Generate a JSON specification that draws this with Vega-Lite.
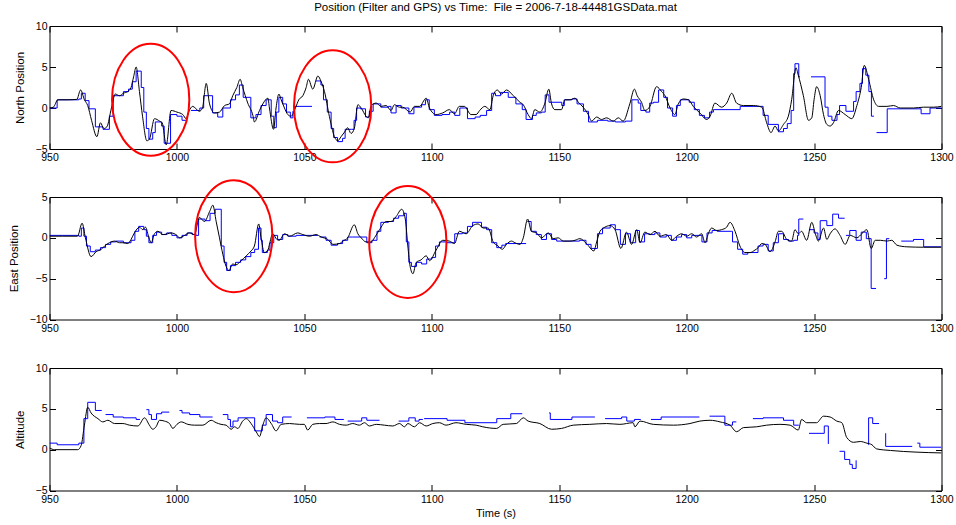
{
  "$schema": "https://vega.github.io/schema/vega-lite/v6.json",
  "background": "white",
  "padding": {"left": 7.5, "top": 1, "right": 5, "bottom": 5},
  "config": {
    "font": "Liberation Sans",
    "view": {"stroke": "black", "strokeWidth": 1},
    "axis": {
      "domain": false, "grid": false, "ticks": true, "tickColor": "black", "tickSize": -6, "tickWidth": 1,
      "labelColor": "black", "labelFont": "Liberation Sans", "labelFontSize": 10.5, "format": "d",
      "labelFlush": false, "labelOverlap": false,
      "titleFont": "Liberation Sans", "titleFontSize": 11.5, "titleFontWeight": "normal", "titleColor": "black", "titlePadding": 4
    },
    "axisX": {"labelPadding": 9.5},
    "axisY": {"labelPadding": 8.5, "titlePadding": 10}
  },
  "datasets": {
    "north_filt": [
      {"t":950,"v":0},{"t":951.5,"v":0.1},{"t":953.3,"v":1.0},{"t":957,"v":1.0},{"t":960.7,"v":1.05},{"t":962.2,"v":2.2},{"t":963.7,"v":1.0},{"t":965,"v":0.3},{"t":966.5,"v":-1.5},{"t":968.6,"v":-3.5},{"t":970,"v":-1.8},{"t":971.3,"v":-2.5},{"t":972.5,"v":-2.3},{"t":974.3,"v":0},{"t":975.8,"v":1.7},{"t":977.5,"v":1.5},{"t":979,"v":1.8},{"t":980.7,"v":2.0},{"t":982,"v":2.5},{"t":983,"v":3.8},{"t":984,"v":5.0},{"t":985.3,"v":2.0},{"t":986.5,"v":-1.0},{"t":988.2,"v":-4.0},{"t":989.2,"v":-3.8},{"t":991.2,"v":-1.3},{"t":993.2,"v":-1.6},{"t":994.2,"v":-1.8},{"t":995.8,"v":-4.5},{"t":997.7,"v":-0.3},{"t":1000,"v":-0.5},{"t":1002.3,"v":-0.8},{"t":1003.6,"v":-1.3},{"t":1004.7,"v":-0.4},{"t":1006.2,"v":0.2},{"t":1008.8,"v":-0.4},{"t":1010,"v":0},{"t":1011.5,"v":3.0},{"t":1012.8,"v":0.5},{"t":1014.7,"v":-0.6},{"t":1016.7,"v":-0.5},{"t":1018.7,"v":0.3},{"t":1020.6,"v":0.5},{"t":1021.9,"v":1.5},{"t":1023.5,"v":2.5},{"t":1024.8,"v":3.5},{"t":1025.8,"v":2.5},{"t":1027.8,"v":0.6},{"t":1029.8,"v":-0.9},{"t":1030.4,"v":-1.7},{"t":1032.4,"v":-0.3},{"t":1033.7,"v":0.5},{"t":1035.7,"v":1.2},{"t":1036.3,"v":0},{"t":1037.9,"v":-2.6},{"t":1038.9,"v":0},{"t":1040,"v":1.7},{"t":1040.9,"v":1.0},{"t":1042.2,"v":0},{"t":1043.5,"v":-0.8},{"t":1044.8,"v":-1.0},{"t":1046.5,"v":0},{"t":1047.8,"v":1.0},{"t":1049.4,"v":1.5},{"t":1050.7,"v":2.5},{"t":1051.6,"v":3.5},{"t":1053.3,"v":2.3},{"t":1055.3,"v":3.9},{"t":1056.6,"v":3.2},{"t":1057.9,"v":2.0},{"t":1059.8,"v":-1.0},{"t":1061.8,"v":-3.5},{"t":1063.1,"v":-4.0},{"t":1064.4,"v":-3.5},{"t":1066.1,"v":-2.8},{"t":1067,"v":-2.4},{"t":1068.3,"v":-3.1},{"t":1069.6,"v":-2.5},{"t":1071,"v":0.4},{"t":1072.3,"v":0},{"t":1074.2,"v":-1.0},{"t":1075.1,"v":-1.2},{"t":1076.2,"v":0.3},{"t":1078.2,"v":0.6},{"t":1080.1,"v":0.2},{"t":1082.1,"v":0.3},{"t":1084,"v":-0.3},{"t":1085.3,"v":0.4},{"t":1087.3,"v":0.1},{"t":1088.6,"v":0.1},{"t":1091.5,"v":-0.5},{"t":1093.2,"v":0.2},{"t":1095.2,"v":0.2},{"t":1097.8,"v":1.2},{"t":1099.1,"v":0},{"t":1101.7,"v":-0.8},{"t":1104.3,"v":-0.6},{"t":1106.9,"v":-0.2},{"t":1108.9,"v":-0.7},{"t":1110.8,"v":0.2},{"t":1112.8,"v":0.2},{"t":1115.4,"v":-0.8},{"t":1117.4,"v":-0.8},{"t":1118.8,"v":-0.3},{"t":1120.8,"v":0.2},{"t":1122.8,"v":-0.2},{"t":1124.1,"v":1.5},{"t":1125.7,"v":2.2},{"t":1127.4,"v":1.7},{"t":1129.3,"v":2.2},{"t":1132,"v":1.5},{"t":1134.6,"v":0.7},{"t":1135.9,"v":0.4},{"t":1137.8,"v":-0.8},{"t":1139.1,"v":-1.3},{"t":1140.4,"v":-0.2},{"t":1142.4,"v":-0.5},{"t":1144.4,"v":0.6},{"t":1145.9,"v":2.3},{"t":1147,"v":0.5},{"t":1148.3,"v":-0.2},{"t":1150.9,"v":-0.2},{"t":1152.2,"v":1.0},{"t":1154.2,"v":1.0},{"t":1156.2,"v":1.2},{"t":1157.5,"v":0.7},{"t":1159.4,"v":0.1},{"t":1161.4,"v":-0.8},{"t":1162.7,"v":-1.6},{"t":1164.7,"v":-1.1},{"t":1166.6,"v":-1.4},{"t":1168.6,"v":-1.2},{"t":1171.2,"v":-1.6},{"t":1173.2,"v":-1.2},{"t":1175.1,"v":-1.6},{"t":1177.7,"v":0.5},{"t":1179.5,"v":2.3},{"t":1180.6,"v":1.5},{"t":1182.3,"v":0.7},{"t":1183.6,"v":-0.3},{"t":1185.6,"v":0.2},{"t":1188.2,"v":2.6},{"t":1190.2,"v":2.0},{"t":1191.5,"v":1.5},{"t":1193.5,"v":0},{"t":1195.4,"v":-0.8},{"t":1196.7,"v":0.5},{"t":1198.7,"v":1.1},{"t":1200.7,"v":1.0},{"t":1202.6,"v":0.2},{"t":1205.2,"v":-0.6},{"t":1207.9,"v":-1.4},{"t":1209.2,"v":-1.0},{"t":1211.1,"v":0.6},{"t":1213.7,"v":0.1},{"t":1215.7,"v":0.6},{"t":1217.7,"v":1.8},{"t":1219.6,"v":0.6},{"t":1222.3,"v":0.3},{"t":1226.2,"v":0.3},{"t":1229.5,"v":0.1},{"t":1231.4,"v":-1.8},{"t":1233.1,"v":-3.0},{"t":1234.7,"v":-2.2},{"t":1236,"v":-2.8},{"t":1238,"v":-2.0},{"t":1239.9,"v":-1.0},{"t":1241.2,"v":1.0},{"t":1242.9,"v":4.9},{"t":1243.8,"v":4.0},{"t":1245.8,"v":1.5},{"t":1247.8,"v":-1.5},{"t":1249.1,"v":-1.2},{"t":1250,"v":1.0},{"t":1251,"v":2.6},{"t":1252.4,"v":1.5},{"t":1253.7,"v":-0.8},{"t":1255,"v":-2.0},{"t":1256.3,"v":-2.2},{"t":1257.6,"v":-1.8},{"t":1259.6,"v":-0.3},{"t":1262.2,"v":-0.8},{"t":1264.8,"v":-1.3},{"t":1266.8,"v":0.3},{"t":1268.5,"v":2.5},{"t":1269.7,"v":5.2},{"t":1271.4,"v":3.5},{"t":1273.4,"v":1.0},{"t":1275.3,"v":0.2},{"t":1278.6,"v":0.2},{"t":1281.2,"v":0.3},{"t":1283.8,"v":0},{"t":1289,"v":0},{"t":1293,"v":0.1},{"t":1296.9,"v":0.1},{"t":1300,"v":0.2}
    ],
    "north_gps": [
      {"t":950,"v":0,"s":1},{"t":953,"v":1.0,"s":1},{"t":961.5,"v":1.1,"s":1},{"t":962.5,"v":1.8,"s":1},{"t":964,"v":0.9,"s":1},{"t":965.5,"v":-0.1,"s":1},{"t":968,"v":-2.3,"s":1},{"t":971,"v":-2.6,"s":1},{"t":973.5,"v":-1.0,"s":1},{"t":975,"v":1.5,"s":1},{"t":979,"v":2.0,"s":1},{"t":981,"v":2.3,"s":1},{"t":982.5,"v":3.2,"s":1},{"t":984,"v":4.5,"s":1},{"t":986,"v":2.5,"s":1},{"t":987,"v":-0.5,"s":1},{"t":988,"v":-2.5,"s":1},{"t":989,"v":-3.8,"s":1},{"t":990.5,"v":-3.0,"s":1},{"t":991.5,"v":-1.7,"s":1},{"t":994,"v":-2.2,"s":1},{"t":995,"v":-4.3,"s":1},{"t":997.5,"v":-0.8,"s":1},{"t":1000,"v":-1.0,"s":1},{"t":1002,"v":-1.5,"s":1},{"t":1004,"v":-1.5,"s":1},
      {"t":1005.5,"v":-0.3,"s":2},{"t":1007.5,"v":-0.3,"s":2},{"t":1009,"v":0,"s":2},{"t":1010.5,"v":1.5,"s":2},{"t":1014,"v":-0.6,"s":2},{"t":1016,"v":-1.1,"s":2},{"t":1018,"v":0,"s":2},{"t":1021,"v":1.0,"s":2},{"t":1023,"v":1.6,"s":2},{"t":1024.5,"v":2.8,"s":2},{"t":1026,"v":1.3,"s":2},{"t":1029,"v":-1.2,"s":2},{"t":1031,"v":-0.8,"s":2},{"t":1033,"v":0.3,"s":2},{"t":1035,"v":1.0,"s":2},{"t":1037,"v":-1.0,"s":2},{"t":1038,"v":-2.4,"s":2},{"t":1039,"v":-0.5,"s":2},{"t":1040,"v":1.3,"s":2},{"t":1041.5,"v":0.5,"s":2},{"t":1043,"v":-0.5,"s":2},{"t":1044.5,"v":-1.2,"s":2},{"t":1045.5,"v":-0.4,"s":2},{"t":1046,"v":0.2,"s":2},{"t":1053,"v":0.2,"s":2},
      {"t":1054.5,"v":3.3,"s":3},{"t":1056.5,"v":2.8,"s":3},{"t":1057.5,"v":1.0,"s":3},{"t":1059,"v":-0.5,"s":3},{"t":1060.5,"v":-2.5,"s":3},{"t":1061.5,"v":-3.6,"s":3},{"t":1063,"v":-4.1,"s":3},{"t":1065,"v":-3.7,"s":3},{"t":1066,"v":-2.6,"s":3},{"t":1068.5,"v":-2.6,"s":3},{"t":1069.5,"v":-1.5,"s":3},{"t":1070.5,"v":0,"s":3},{"t":1072,"v":-0.1,"s":3},{"t":1074,"v":-1.1,"s":3},{"t":1075.5,"v":-0.4,"s":3},{"t":1077,"v":0.5,"s":3},{"t":1080,"v":0.1,"s":3},{"t":1083,"v":0.2,"s":3},{"t":1084,"v":-0.6,"s":3},{"t":1086,"v":0.3,"s":3},{"t":1088,"v":0,"s":3},{"t":1091,"v":-0.7,"s":3},{"t":1093,"v":0.1,"s":3},{"t":1096,"v":0.4,"s":3},{"t":1097.5,"v":1.0,"s":3},{"t":1099,"v":-0.2,"s":3},{"t":1101,"v":-0.9,"s":3},{"t":1104,"v":-0.8,"s":3},{"t":1107,"v":-0.5,"s":3},{"t":1109,"v":-0.9,"s":3},{"t":1111,"v":0,"s":3},{"t":1114,"v":-1.3,"s":3},{"t":1117,"v":-1.1,"s":3},{"t":1119,"v":-0.9,"s":3},{"t":1121.5,"v":-0.3,"s":3},{"t":1123.5,"v":1.8,"s":3},{"t":1125,"v":1.5,"s":3},{"t":1127,"v":1.9,"s":3},{"t":1130,"v":1.3,"s":3},{"t":1133,"v":0.5,"s":3},{"t":1135.5,"v":-0.2,"s":3},{"t":1137,"v":-1.4,"s":3},{"t":1139.5,"v":-0.9,"s":3},{"t":1141,"v":-0.6,"s":3},{"t":1143,"v":-0.5,"s":3},{"t":1144.5,"v":1.6,"s":3},{"t":1146,"v":0.7,"s":3},{"t":1151,"v":0.3,"s":3},{"t":1152,"v":1.0,"s":3},{"t":1155,"v":1.1,"s":3},{"t":1157,"v":0.5,"s":3},{"t":1159.5,"v":-0.4,"s":3},{"t":1161.5,"v":-1.7,"s":3},{"t":1165,"v":-1.5,"s":3},{"t":1169,"v":-1.6,"s":3},{"t":1172,"v":-1.7,"s":3},{"t":1176,"v":-1.6,"s":3},{"t":1178.5,"v":1.0,"s":3},{"t":1181,"v":0.6,"s":3},{"t":1182,"v":-0.3,"s":3},{"t":1184,"v":-0.5,"s":3},{"t":1185.5,"v":0.6,"s":3},{"t":1187,"v":0.7,"s":3},{"t":1189,"v":2.2,"s":3},{"t":1191,"v":1.3,"s":3},{"t":1192.5,"v":0,"s":3},{"t":1194.5,"v":-1.0,"s":3},{"t":1196,"v":0.3,"s":3},{"t":1197.5,"v":1.0,"s":3},{"t":1201,"v":0.7,"s":3},{"t":1203,"v":-0.2,"s":3},{"t":1205,"v":-0.9,"s":3},{"t":1207,"v":-1.2,"s":3},{"t":1209,"v":-0.5,"s":3},{"t":1210.5,"v":-0.2,"s":3},{"t":1221,"v":0.2,"s":3},{"t":1229,"v":0.2,"s":3},{"t":1230,"v":-0.9,"s":3},{"t":1232,"v":-2.0,"s":3},{"t":1236,"v":-2.9,"s":3},{"t":1238,"v":-2.5,"s":3},{"t":1239.5,"v":-1.9,"s":3},{"t":1241,"v":-0.3,"s":3},{"t":1242,"v":4.2,"s":3},{"t":1242.5,"v":5.4,"s":3},{"t":1244,"v":3.8,"s":3},{"t":1244.5,"v":3.8,"s":3},
      {"t":1248.8,"v":3.8,"s":4},{"t":1254.3,"v":0.1,"s":4},{"t":1255.5,"v":-1.0,"s":4},{"t":1257,"v":-1.5,"s":4},{"t":1259,"v":-0.8,"s":4},{"t":1260,"v":0.3,"s":4},{"t":1262.5,"v":-0.4,"s":4},{"t":1265.5,"v":0.8,"s":4},{"t":1266.5,"v":2.0,"s":4},{"t":1268,"v":3.0,"s":4},{"t":1269,"v":4.8,"s":4},{"t":1270.3,"v":4.0,"s":4},{"t":1271.5,"v":2.0,"s":4},{"t":1272.5,"v":-1.0,"s":4},{"t":1273.5,"v":-1.0,"s":4},
      {"t":1274.5,"v":-3.0,"s":5},{"t":1278.7,"v":-0.1,"s":5},{"t":1292,"v":-0.7,"s":5},{"t":1295.5,"v":0,"s":5},{"t":1300,"v":0,"s":5}
    ],
    "east_filt": [
      {"t":950,"v":0.2},{"t":955,"v":0.2},{"t":961,"v":0.2},{"t":962.8,"v":1.8},{"t":964.1,"v":0},{"t":966.3,"v":-2.3},{"t":968.3,"v":-1.7},{"t":970.3,"v":-1.4},{"t":971.6,"v":-1.0},{"t":973.5,"v":-0.6},{"t":975.5,"v":-0.4},{"t":977.5,"v":-0.6},{"t":978.8,"v":-0.6},{"t":980.7,"v":-0.7},{"t":982,"v":-0.2},{"t":983.3,"v":0.6},{"t":985.3,"v":1.3},{"t":986.6,"v":1.0},{"t":987.7,"v":1.3},{"t":989,"v":0},{"t":989.9,"v":-0.6},{"t":991.2,"v":0.5},{"t":992.5,"v":0.8},{"t":994.5,"v":0.4},{"t":996.4,"v":0.5},{"t":997.7,"v":0.6},{"t":1000,"v":0.3},{"t":1001,"v":0},{"t":1003,"v":0.3},{"t":1004.9,"v":0.6},{"t":1006.9,"v":0.4},{"t":1008.8,"v":2.5},{"t":1010.8,"v":2.0},{"t":1012.8,"v":3.2},{"t":1014.1,"v":4.0},{"t":1015.4,"v":2.0},{"t":1016.7,"v":0},{"t":1018,"v":-2.0},{"t":1019.3,"v":-3.5},{"t":1020.4,"v":-4.0},{"t":1021.9,"v":-3.2},{"t":1023.2,"v":-3.3},{"t":1025.2,"v":-2.8},{"t":1027.2,"v":-2.2},{"t":1029.1,"v":-1.6},{"t":1030.4,"v":-1.0},{"t":1032.1,"v":1.7},{"t":1033,"v":0},{"t":1034.3,"v":-1.8},{"t":1035.7,"v":-1.5},{"t":1036.3,"v":-0.8},{"t":1037.6,"v":0.5},{"t":1039.2,"v":-0.2},{"t":1040.2,"v":-0.3},{"t":1042.2,"v":0.5},{"t":1044.2,"v":0.2},{"t":1047.4,"v":0.6},{"t":1049.4,"v":0.4},{"t":1052,"v":0.2},{"t":1054.6,"v":0.4},{"t":1056.6,"v":0.1},{"t":1059.2,"v":-0.2},{"t":1061.2,"v":-0.8},{"t":1063.8,"v":-0.7},{"t":1065.1,"v":-0.4},{"t":1067,"v":0},{"t":1069.6,"v":1.6},{"t":1071,"v":0.5},{"t":1072.3,"v":0},{"t":1074.2,"v":-0.5},{"t":1076.2,"v":-0.5},{"t":1077.5,"v":0},{"t":1079.5,"v":1.0},{"t":1082.1,"v":2.0},{"t":1084,"v":2.0},{"t":1086,"v":2.6},{"t":1088.2,"v":3.5},{"t":1089.6,"v":2.3},{"t":1090.6,"v":-1.0},{"t":1091.5,"v":-3.5},{"t":1092.6,"v":-4.4},{"t":1093.9,"v":-3.0},{"t":1095.8,"v":-2.7},{"t":1097.8,"v":-2.2},{"t":1099.1,"v":-2.8},{"t":1101.7,"v":-1.5},{"t":1104.3,"v":-0.3},{"t":1106.9,"v":-0.4},{"t":1108.9,"v":-0.7},{"t":1110.8,"v":0.8},{"t":1113.5,"v":0.5},{"t":1116.1,"v":1.5},{"t":1118.2,"v":1.7},{"t":1120.2,"v":1.2},{"t":1122.1,"v":1.2},{"t":1124.1,"v":-0.5},{"t":1126,"v":-1.0},{"t":1127.7,"v":-1.4},{"t":1129.3,"v":-0.8},{"t":1131.3,"v":-0.4},{"t":1132.6,"v":-0.6},{"t":1134.6,"v":-0.8},{"t":1135.9,"v":0},{"t":1137.6,"v":2.3},{"t":1139.1,"v":0.8},{"t":1141.1,"v":0.6},{"t":1143.1,"v":0},{"t":1145.7,"v":0.6},{"t":1147.6,"v":-0.1},{"t":1149.6,"v":0},{"t":1151.6,"v":-0.4},{"t":1154.2,"v":-0.4},{"t":1156.2,"v":-0.3},{"t":1158.1,"v":-0.1},{"t":1160.7,"v":-0.7},{"t":1163.6,"v":-1.6},{"t":1164.7,"v":-0.5},{"t":1166,"v":0.8},{"t":1167.9,"v":1.3},{"t":1169.9,"v":1.5},{"t":1171.9,"v":1.0},{"t":1174.2,"v":-1.3},{"t":1176.4,"v":0.7},{"t":1178.4,"v":-0.8},{"t":1180.4,"v":1.0},{"t":1181.7,"v":-0.6},{"t":1183.6,"v":0.7},{"t":1185.6,"v":0.4},{"t":1187.6,"v":0.8},{"t":1189.5,"v":0.2},{"t":1192.1,"v":0.4},{"t":1194.1,"v":-0.3},{"t":1196.1,"v":0.2},{"t":1198,"v":0.5},{"t":1200,"v":0.2},{"t":1202,"v":0.5},{"t":1203.9,"v":0.1},{"t":1205.9,"v":0.5},{"t":1207.2,"v":-0.6},{"t":1208.5,"v":0.5},{"t":1209.8,"v":1.2},{"t":1211.8,"v":0.9},{"t":1213.7,"v":1.0},{"t":1215.7,"v":1.3},{"t":1217,"v":1.9},{"t":1219,"v":0.8},{"t":1220.9,"v":-1.0},{"t":1222.9,"v":-1.8},{"t":1224.9,"v":-1.8},{"t":1226.8,"v":-1.5},{"t":1228.1,"v":-1.2},{"t":1229.5,"v":-0.7},{"t":1230.8,"v":-0.8},{"t":1232.7,"v":-1.7},{"t":1234.7,"v":-0.5},{"t":1236,"v":0.8},{"t":1237.3,"v":0.8},{"t":1239.3,"v":-0.2},{"t":1241.2,"v":-0.4},{"t":1242.5,"v":1.0},{"t":1243.8,"v":0.5},{"t":1245.1,"v":0.8},{"t":1247.1,"v":-0.3},{"t":1249.1,"v":1.9},{"t":1250.5,"v":0.5},{"t":1251.7,"v":-0.4},{"t":1253.7,"v":1.2},{"t":1255,"v":-0.2},{"t":1256.3,"v":0.5},{"t":1258.2,"v":1.1},{"t":1260.2,"v":0.3},{"t":1262.2,"v":-0.8},{"t":1264.2,"v":0.3},{"t":1266.8,"v":0},{"t":1268.7,"v":0.5},{"t":1270.7,"v":1.0},{"t":1272.4,"v":-1.3},{"t":1274,"v":-0.3},{"t":1276,"v":-0.3},{"t":1278.6,"v":-0.4},{"t":1280.5,"v":-0.3},{"t":1282.5,"v":-0.9},{"t":1286.4,"v":-1.1},{"t":1293,"v":-1.15},{"t":1300,"v":-1.15}
    ],
    "east_gps": [
      {"t":950,"v":0.3,"s":1},{"t":961.5,"v":0.2,"s":1},{"t":962.5,"v":1.2,"s":1},{"t":963.5,"v":0.2,"s":1},{"t":964.5,"v":-1.0,"s":1},{"t":966,"v":-1.7,"s":1},{"t":968,"v":-1.5,"s":1},{"t":970,"v":-1.2,"s":1},{"t":972,"v":-0.8,"s":1},{"t":974,"v":-0.5,"s":1},{"t":976,"v":-0.4,"s":1},{"t":979,"v":-0.6,"s":1},{"t":982,"v":-0.3,"s":1},{"t":983.5,"v":0.8,"s":1},{"t":985,"v":1.4,"s":1},{"t":987,"v":1.0,"s":1},{"t":988,"v":0.2,"s":1},{"t":989,"v":-0.6,"s":1},{"t":990.5,"v":0.3,"s":1},{"t":992,"v":0.7,"s":1},{"t":994,"v":0.4,"s":1},{"t":996,"v":0.6,"s":1},{"t":998,"v":0.3,"s":1},{"t":1000,"v":0,"s":1},{"t":1002,"v":0.3,"s":1},{"t":1004,"v":0.6,"s":1},{"t":1006,"v":0.4,"s":1},{"t":1007.5,"v":0.3,"s":1},{"t":1008.5,"v":2.3,"s":1},{"t":1011,"v":2.1,"s":1},{"t":1013,"v":3.0,"s":1},{"t":1015,"v":3.5,"s":1},{"t":1017.4,"v":-1.0,"s":1},{"t":1018.5,"v":-3.0,"s":1},{"t":1019.5,"v":-4.0,"s":1},{"t":1021,"v":-3.4,"s":1},{"t":1023,"v":-3.0,"s":1},{"t":1025,"v":-2.7,"s":1},{"t":1027,"v":-2.3,"s":1},{"t":1029,"v":-1.8,"s":1},{"t":1030.5,"v":-1.4,"s":1},{"t":1032,"v":1.2,"s":1},{"t":1033,"v":-0.3,"s":1},{"t":1033.5,"v":-1.8,"s":1},{"t":1035.5,"v":-1.5,"s":1},{"t":1036.5,"v":-0.6,"s":1},{"t":1038,"v":0.3,"s":1},{"t":1039.5,"v":-0.2,"s":1},{"t":1041.5,"v":0.4,"s":1},{"t":1043.5,"v":0.2,"s":1},{"t":1046.8,"v":0.3,"s":1},{"t":1055.3,"v":0.3,"s":1},
      {"t":1056,"v":0.1,"s":2},{"t":1058.5,"v":-0.3,"s":2},{"t":1060.5,"v":-0.9,"s":2},{"t":1063,"v":-0.7,"s":2},{"t":1065,"v":-0.3,"s":2},{"t":1067,"v":0.1,"s":2},{"t":1069,"v":0.1,"s":2},{"t":1074.5,"v":-0.6,"s":2},{"t":1076.5,"v":-0.3,"s":2},{"t":1078.5,"v":0.8,"s":2},{"t":1080,"v":1.9,"s":2},{"t":1083,"v":2.0,"s":2},{"t":1085,"v":2.4,"s":2},{"t":1087,"v":2.7,"s":2},{"t":1089,"v":3.0,"s":2},{"t":1090,"v":-0.5,"s":2},{"t":1091,"v":-3.0,"s":2},{"t":1092,"v":-3.5,"s":2},{"t":1094,"v":-3.0,"s":2},{"t":1096,"v":-3.2,"s":2},{"t":1098,"v":-2.6,"s":2},{"t":1100,"v":-2.4,"s":2},{"t":1101.5,"v":-1.0,"s":2},{"t":1103,"v":-0.5,"s":2},{"t":1106,"v":-0.6,"s":2},{"t":1109,"v":0.5,"s":2},{"t":1112,"v":0.6,"s":2},{"t":1114,"v":1.4,"s":2},{"t":1116,"v":1.9,"s":2},{"t":1119.5,"v":1.3,"s":2},{"t":1121.5,"v":1.0,"s":2},{"t":1123.5,"v":-0.6,"s":2},{"t":1125.5,"v":-1.2,"s":2},{"t":1127.5,"v":-0.9,"s":2},{"t":1129,"v":-0.7,"s":2},{"t":1137,"v":-0.7,"s":2},
      {"t":1137.5,"v":2.0,"s":3},{"t":1139,"v":0.8,"s":3},{"t":1141,"v":0.4,"s":3},{"t":1143,"v":-0.2,"s":3},{"t":1145,"v":0.5,"s":3},{"t":1147,"v":-0.2,"s":3},{"t":1149,"v":-0.4,"s":3},{"t":1158,"v":-0.3,"s":3},{"t":1160.5,"v":-0.8,"s":3},{"t":1162.5,"v":-1.3,"s":3},{"t":1165,"v":0.5,"s":3},{"t":1167,"v":1.2,"s":3},{"t":1170,"v":1.6,"s":3},{"t":1172,"v":1.0,"s":3},{"t":1174,"v":-0.8,"s":3},{"t":1176,"v":0.5,"s":3},{"t":1178,"v":-0.6,"s":3},{"t":1180,"v":0.9,"s":3},{"t":1181.5,"v":-0.5,"s":3},{"t":1183.5,"v":0.5,"s":3},{"t":1185.5,"v":0.4,"s":3},{"t":1187.5,"v":0.6,"s":3},{"t":1189.5,"v":0.1,"s":3},{"t":1192,"v":0.3,"s":3},{"t":1194,"v":-0.3,"s":3},{"t":1196,"v":0.1,"s":3},{"t":1198,"v":0.4,"s":3},{"t":1200,"v":0,"s":3},{"t":1202,"v":0.3,"s":3},{"t":1206,"v":-0.5,"s":3},{"t":1208,"v":0.6,"s":3},{"t":1210,"v":0.9,"s":3},{"t":1212,"v":0.8,"s":3},{"t":1217.5,"v":0.8,"s":3},{"t":1218,"v":-0.5,"s":3},{"t":1220,"v":-1.4,"s":3},{"t":1222,"v":-2.0,"s":3},{"t":1224,"v":-1.8,"s":3},{"t":1228,"v":-1.0,"s":3},{"t":1230,"v":-0.8,"s":3},{"t":1232,"v":-1.6,"s":3},{"t":1234,"v":-0.6,"s":3},{"t":1236,"v":0.5,"s":3},{"t":1238,"v":-0.2,"s":3},{"t":1240,"v":-0.4,"s":3},{"t":1242,"v":-0.3,"s":3},{"t":1243.5,"v":0.3,"s":3},{"t":1244,"v":2.3,"s":3},{"t":1245.8,"v":2.3,"s":3},
      {"t":1248,"v":1.0,"s":4},{"t":1250,"v":0.6,"s":4},{"t":1251.5,"v":-0.2,"s":4},{"t":1252.4,"v":2.1,"s":4},{"t":1255,"v":1.5,"s":4},{"t":1257.3,"v":2.9,"s":4},{"t":1259.6,"v":2.4,"s":4},{"t":1262,"v":2.4,"s":4},
      {"t":1262.5,"v":0.3,"s":5},{"t":1264,"v":0.9,"s":5},{"t":1266.5,"v":-0.3,"s":5},{"t":1268.5,"v":0.7,"s":5},{"t":1270.5,"v":-0.1,"s":5},{"t":1272.4,"v":-6.2,"s":5},{"t":1274.3,"v":-6.2,"s":5},
      {"t":1277.5,"v":-5.0,"s":6},{"t":1278.4,"v":-0.1,"s":6},{"t":1279.5,"v":-0.1,"s":6},
      {"t":1284.2,"v":-0.4,"s":7},{"t":1289,"v":-0.2,"s":7},{"t":1293,"v":-1.1,"s":7},{"t":1300,"v":-1.1,"s":7}
    ],
    "alt_filt": [
      {"t":950,"v":0.2},{"t":952,"v":0},{"t":961.1,"v":0},{"t":962.4,"v":0.5},{"t":963.7,"v":3.0},{"t":965,"v":5.2},{"t":966.3,"v":4.5},{"t":969,"v":3.8},{"t":970.9,"v":3.4},{"t":972.9,"v":3.6},{"t":975.5,"v":3.2},{"t":978.8,"v":3.2},{"t":981.4,"v":3.0},{"t":984.7,"v":2.9},{"t":987.3,"v":3.9},{"t":989.2,"v":3.0},{"t":990.5,"v":2.5},{"t":991.8,"v":2.8},{"t":993.2,"v":3.6},{"t":995.1,"v":3.5},{"t":997.1,"v":3.2},{"t":998.4,"v":2.6},{"t":1000,"v":3.1},{"t":1001.7,"v":3.4},{"t":1004.3,"v":3.1},{"t":1006.9,"v":3.0},{"t":1010.2,"v":3.0},{"t":1013.4,"v":3.6},{"t":1015.4,"v":3.3},{"t":1017.3,"v":3.1},{"t":1019.3,"v":3.0},{"t":1021.3,"v":2.5},{"t":1022.6,"v":2.8},{"t":1023.9,"v":2.6},{"t":1025.8,"v":3.5},{"t":1027.2,"v":3.8},{"t":1029.1,"v":3.2},{"t":1031.1,"v":2.2},{"t":1032.4,"v":1.6},{"t":1033.7,"v":3.0},{"t":1035,"v":3.9},{"t":1037,"v":3.2},{"t":1038.9,"v":2.3},{"t":1040.9,"v":3.1},{"t":1044.2,"v":3.2},{"t":1048.1,"v":3.1},{"t":1050,"v":3.1},{"t":1051.3,"v":2.4},{"t":1053.3,"v":3.1},{"t":1055.9,"v":3.2},{"t":1058.5,"v":3.2},{"t":1061.2,"v":3.4},{"t":1063.8,"v":3.1},{"t":1066.4,"v":3.0},{"t":1069,"v":3.2},{"t":1071.6,"v":3.0},{"t":1073.6,"v":3.3},{"t":1075.5,"v":2.9},{"t":1078.2,"v":3.1},{"t":1081.4,"v":3.0},{"t":1084.7,"v":2.9},{"t":1087.3,"v":3.2},{"t":1089.3,"v":2.8},{"t":1090.6,"v":3.2},{"t":1093.2,"v":2.8},{"t":1095.2,"v":3.3},{"t":1097.8,"v":2.9},{"t":1100.4,"v":3.2},{"t":1103,"v":3.3},{"t":1105.6,"v":3.0},{"t":1109.5,"v":3.3},{"t":1113.5,"v":3.1},{"t":1117.4,"v":3.0},{"t":1120,"v":2.8},{"t":1125.4,"v":2.6},{"t":1128,"v":3.1},{"t":1133.2,"v":3.2},{"t":1135.9,"v":3.9},{"t":1137.8,"v":3.5},{"t":1142.4,"v":3.2},{"t":1147,"v":2.5},{"t":1150.9,"v":2.6},{"t":1155.5,"v":3.0},{"t":1162,"v":3.1},{"t":1168.6,"v":3.2},{"t":1173.8,"v":3.1},{"t":1179,"v":3.3},{"t":1179.7,"v":2.8},{"t":1181.7,"v":3.5},{"t":1186.9,"v":3.1},{"t":1194.8,"v":3.0},{"t":1201.3,"v":3.2},{"t":1205.2,"v":3.5},{"t":1209.2,"v":3.6},{"t":1213.1,"v":3.4},{"t":1217,"v":3.0},{"t":1219.6,"v":2.2},{"t":1222.3,"v":2.7},{"t":1227.5,"v":2.8},{"t":1231.4,"v":3.0},{"t":1236.6,"v":3.1},{"t":1240.6,"v":3.0},{"t":1243.8,"v":2.4},{"t":1245.1,"v":3.7},{"t":1247.1,"v":3.3},{"t":1251,"v":3.3},{"t":1253.7,"v":4.1},{"t":1256.3,"v":4.0},{"t":1258.9,"v":3.5},{"t":1260.9,"v":3.3},{"t":1262.8,"v":1.5},{"t":1265.5,"v":0.9},{"t":1268.1,"v":1.0},{"t":1270.7,"v":0.8},{"t":1272.7,"v":0.6},{"t":1274.5,"v":0.1},{"t":1280,"v":-0.1},{"t":1290,"v":-0.3},{"t":1300,"v":-0.4}
    ],
    "alt_gps": [
      {"t":950,"v":0.8,"s":1},{"t":953,"v":0.6,"s":1},{"t":961.5,"v":0.8,"s":1},{"t":963.5,"v":3.8,"s":1},{"t":965,"v":5.8,"s":1},{"t":968,"v":4.8,"s":1},{"t":970.5,"v":4.8,"s":1},
      {"t":972,"v":4.3,"s":2},{"t":975,"v":4.0,"s":2},{"t":979,"v":3.9,"s":2},{"t":984,"v":3.7,"s":2},{"t":985.5,"v":3.7,"s":2},
      {"t":988,"v":4.9,"s":3},{"t":989,"v":4.3,"s":3},{"t":990,"v":3.7,"s":3},{"t":992,"v":4.4,"s":3},{"t":994,"v":4.6,"s":3},{"t":997,"v":4.6,"s":3},
      {"t":1001,"v":4.8,"s":4},{"t":1002,"v":4.5,"s":4},{"t":1005,"v":4.3,"s":4},{"t":1009,"v":4.0,"s":4},{"t":1014,"v":4.0,"s":4},
      {"t":1018,"v":4.3,"s":5},{"t":1020,"v":3.7,"s":5},{"t":1021,"v":2.8,"s":5},{"t":1022,"v":3.5,"s":5},{"t":1024,"v":3.9,"s":5},{"t":1030.5,"v":2.3,"s":5},{"t":1033.5,"v":3.0,"s":5},{"t":1035,"v":4.3,"s":5},{"t":1037.5,"v":3.5,"s":5},{"t":1039.5,"v":3.3,"s":5},{"t":1041.5,"v":4.0,"s":5},{"t":1045,"v":4.0,"s":5},
      {"t":1051,"v":3.9,"s":6},{"t":1058,"v":4.0,"s":6},{"t":1062,"v":3.7,"s":6},{"t":1065.5,"v":3.7,"s":6},
      {"t":1067,"v":3.5,"s":7},{"t":1072.5,"v":3.9,"s":7},{"t":1074.5,"v":3.6,"s":7},{"t":1079.5,"v":3.6,"s":7},
      {"t":1087,"v":3.5,"s":8},{"t":1091,"v":3.9,"s":8},{"t":1093.5,"v":3.5,"s":8},{"t":1095,"v":3.7,"s":8},{"t":1096.5,"v":3.7,"s":8},
      {"t":1097,"v":3.8,"s":9},{"t":1106,"v":3.6,"s":9},{"t":1113,"v":3.3,"s":9},{"t":1125.5,"v":3.8,"s":9},{"t":1131,"v":4.4,"s":9},{"t":1135.5,"v":4.4,"s":9},
      {"t":1146,"v":4.5,"s":10},{"t":1146.5,"v":3.7,"s":10},{"t":1155,"v":4.0,"s":10},{"t":1164,"v":4.0,"s":10},
      {"t":1168,"v":3.8,"s":11},{"t":1174.5,"v":4.0,"s":11},{"t":1176.5,"v":3.5,"s":11},{"t":1179.5,"v":3.7,"s":11},{"t":1182,"v":3.7,"s":11},
      {"t":1186,"v":3.7,"s":12},{"t":1190,"v":4.0,"s":12},{"t":1205,"v":4.0,"s":12},
      {"t":1209,"v":4.1,"s":13},{"t":1215,"v":3.0,"s":13},{"t":1218,"v":3.4,"s":13},{"t":1219.5,"v":3.4,"s":13},
      {"t":1226,"v":3.8,"s":14},{"t":1230,"v":3.9,"s":14},{"t":1238,"v":3.6,"s":14},{"t":1242,"v":3.0,"s":14},{"t":1244,"v":3.0,"s":14},
      {"t":1248,"v":2.0,"s":15},{"t":1254,"v":2.9,"s":15},{"t":1255.6,"v":0.7,"s":15},
      {"t":1260,"v":-0.2,"s":16},{"t":1262,"v":-1.2,"s":16},{"t":1264,"v":-1.8,"s":16},{"t":1265,"v":-2.3,"s":16},{"t":1266.5,"v":-1.3,"s":16},
      {"t":1271.3,"v":0.6,"s":17},{"t":1271.4,"v":3.9,"s":17},{"t":1273,"v":3.2,"s":17},{"t":1275.5,"v":3.2,"s":17},
      {"t":1278,"v":2.0,"s":18},{"t":1278.1,"v":0.4,"s":18},{"t":1288.5,"v":0.4,"s":18},
      {"t":1290.5,"v":0.8,"s":19},{"t":1291.5,"v":0.3,"s":19},{"t":1300,"v":0.3,"s":19}
    ],
    "north_marks": [{"t":989.7,"v":1.0},{"t":1061.1,"v":0.2}],
    "east_marks": [{"t":1022.3,"v":0.2},{"t":1090.6,"v":-0.5}]
  },
  "spacing": 48,
  "bounds": "flush",
  "vconcat": [
    {
      "width": 892, "height": 123,
      "title": {"text": "Position (Filter and GPS) vs Time:\u00a0\u00a0File = 2006-7-18-44481GSData.mat", "fontSize": 11.5, "fontWeight": "normal", "font": "Liberation Sans", "color": "black", "anchor": "middle", "frame": "group", "offset": 8},
      "layer": [
        {"data": {"name": "north_gps"}, "mark": {"type": "line", "color": "#0000ff", "strokeWidth": 1, "interpolate": "step-after", "clip": true},
         "encoding": {
           "x": {"field": "t", "type": "quantitative", "scale": {"domain": [950, 1300], "nice": false, "zero": false}, "axis": {"orient": "bottom", "values": [950,1000,1050,1100,1150,1200,1250,1300], "title": null}},
           "y": {"field": "v", "type": "quantitative", "scale": {"domain": [-5, 10], "nice": false, "zero": false}, "axis": {"orient": "left", "values": [-5,0,5,10], "title": "North Position"}},
           "detail": {"field": "s", "type": "nominal"}}},
        {"data": {"name": "north_filt"}, "mark": {"type": "line", "color": "black", "strokeWidth": 1, "interpolate": "monotone", "clip": true},
         "encoding": {
           "x": {"field": "t", "type": "quantitative", "axis": {"orient": "top", "values": [950,1000,1050,1100,1150,1200,1250,1300], "labels": false, "title": null}},
           "y": {"field": "v", "type": "quantitative", "axis": {"orient": "right", "values": [-5,0,5,10], "labels": false, "title": null}}}},
        {"data": {"name": "north_marks"}, "mark": {"type": "point", "shape": "M -0.69 0 A 0.69 1 0 1 1 0.69 0 A 0.69 1 0 1 1 -0.69 0 Z", "size": 12544, "filled": false, "stroke": "#ff0000", "strokeWidth": 2, "opacity": 1},
         "encoding": {"x": {"field": "t", "type": "quantitative", "axis": null}, "y": {"field": "v", "type": "quantitative", "axis": null}}}
      ],
      "resolve": {"axis": {"x": "independent", "y": "independent"}}
    },
    {
      "width": 892, "height": 122.5,
      "layer": [
        {"data": {"name": "east_gps"}, "mark": {"type": "line", "color": "#0000ff", "strokeWidth": 1, "interpolate": "step-after", "clip": true},
         "encoding": {
           "x": {"field": "t", "type": "quantitative", "scale": {"domain": [950, 1300], "nice": false, "zero": false}, "axis": {"orient": "bottom", "values": [950,1000,1050,1100,1150,1200,1250,1300], "title": null}},
           "y": {"field": "v", "type": "quantitative", "scale": {"domain": [-10, 5], "nice": false, "zero": false}, "axis": {"orient": "left", "values": [-10,-5,0,5], "title": "East Position"}},
           "detail": {"field": "s", "type": "nominal"}}},
        {"data": {"name": "east_filt"}, "mark": {"type": "line", "color": "black", "strokeWidth": 1, "interpolate": "monotone", "clip": true},
         "encoding": {
           "x": {"field": "t", "type": "quantitative", "axis": {"orient": "top", "values": [950,1000,1050,1100,1150,1200,1250,1300], "labels": false, "title": null}},
           "y": {"field": "v", "type": "quantitative", "axis": {"orient": "right", "values": [-10,-5,0,5], "labels": false, "title": null}}}},
        {"data": {"name": "east_marks"}, "mark": {"type": "point", "shape": "M -0.69 0 A 0.69 1 0 1 1 0.69 0 A 0.69 1 0 1 1 -0.69 0 Z", "size": 12544, "filled": false, "stroke": "#ff0000", "strokeWidth": 2, "opacity": 1},
         "encoding": {"x": {"field": "t", "type": "quantitative", "axis": null}, "y": {"field": "v", "type": "quantitative", "axis": null}}}
      ],
      "resolve": {"axis": {"x": "independent", "y": "independent"}}
    },
    {
      "width": 892, "height": 122.5,
      "layer": [
        {"data": {"name": "alt_gps"}, "mark": {"type": "line", "color": "#0000ff", "strokeWidth": 1, "interpolate": "step-after", "clip": true},
         "encoding": {
           "x": {"field": "t", "type": "quantitative", "scale": {"domain": [950, 1300], "nice": false, "zero": false}, "axis": {"orient": "bottom", "values": [950,1000,1050,1100,1150,1200,1250,1300], "title": "Time (s)", "titlePadding": 3, "titleFontSize": 11}},
           "y": {"field": "v", "type": "quantitative", "scale": {"domain": [-5, 10], "nice": false, "zero": false}, "axis": {"orient": "left", "values": [-5,0,5,10], "title": "Altitude"}},
           "detail": {"field": "s", "type": "nominal"}}},
        {"data": {"name": "alt_filt"}, "mark": {"type": "line", "color": "black", "strokeWidth": 1, "interpolate": "monotone", "clip": true},
         "encoding": {
           "x": {"field": "t", "type": "quantitative", "axis": {"orient": "top", "values": [950,1000,1050,1100,1150,1200,1250,1300], "labels": false, "title": null}},
           "y": {"field": "v", "type": "quantitative", "axis": {"orient": "right", "values": [-5,0,5,10], "labels": false, "title": null}}}}
      ],
      "resolve": {"axis": {"x": "independent", "y": "independent"}}
    }
  ]
}
